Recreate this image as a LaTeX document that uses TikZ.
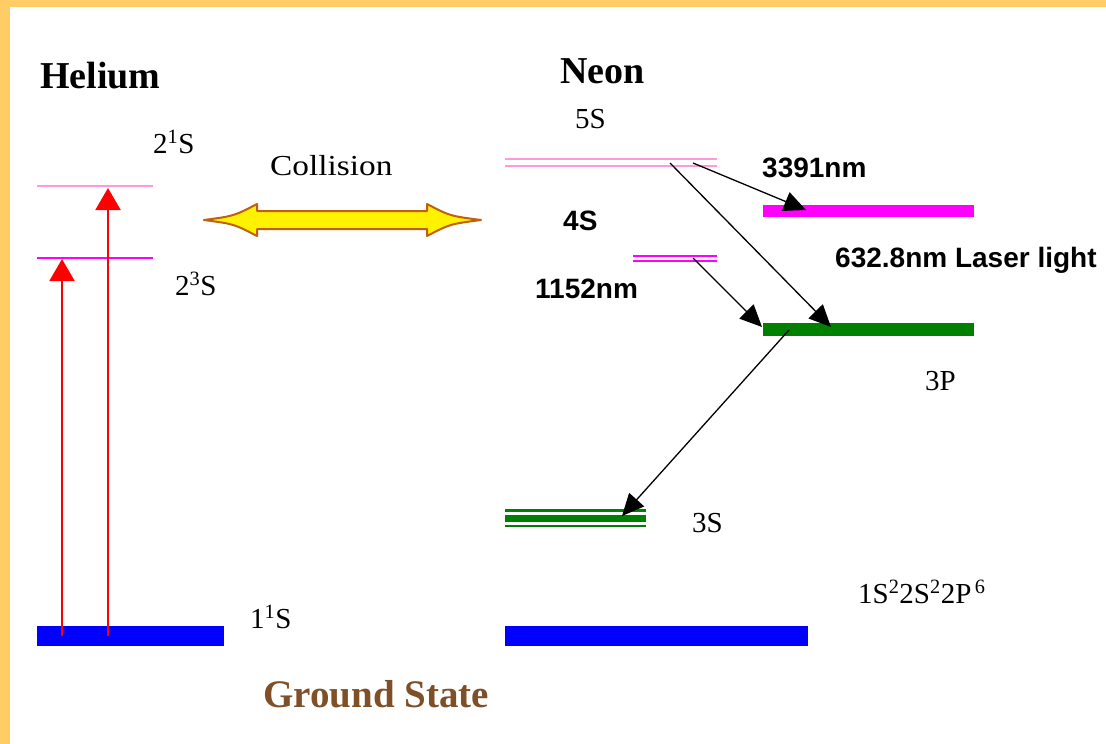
\documentclass[tikz,border=0pt]{standalone}
\usepackage{fontspec}
\setmainfont{Liberation Serif}
\newfontfamily\sansfont{Liberation Sans}
\usetikzlibrary{arrows.meta}
\definecolor{framecol}{HTML}{FFCC66}
\definecolor{lpink}{HTML}{FF99DD}
\definecolor{mag}{HTML}{FF00FF}
\definecolor{dgreen}{HTML}{008000}
\definecolor{gsbrown}{HTML}{7F4F28}
\definecolor{edgecol}{HTML}{C0600F}
\tikzset{
  bar/.style={inner sep=0pt, outer sep=0pt},
  title/.style={anchor=base west, inner sep=0pt, font=\fontsize{38}{40}\selectfont\bfseries},
  lbl/.style={anchor=base west, inner sep=0pt, font=\fontsize{29}{31}\selectfont},
  sbl/.style={anchor=base west, inner sep=0pt, font=\fontsize{28}{30}\selectfont\sansfont\bfseries},
  redarrow/.style={red, line width=2pt, -{Triangle[length=22pt,width=25pt]}},
  trans/.style={black, line width=1.3pt, -{Triangle[length=22pt,width=20pt]}},
}
\begin{document}
\begin{tikzpicture}[x=1pt,y=-1pt]
\useasboundingbox (0,0) rectangle (1106,744);
\fill[white] (0,0) rectangle (1106,744);
\fill[framecol] (0,0) rectangle (1106,7);
\fill[framecol] (0,0) rectangle (10,744);

% titles
\node[title] (he) at (40,88) {Helium};
\node[title] (ne) at (560,83) {Neon};
\node[title, text=gsbrown, font=\fontsize{39}{41}\selectfont\bfseries] (gs) at (263,707) {Ground State};

% helium levels
\node[bar, fill=lpink, minimum width=116pt, minimum height=2pt] (he21) at (95,186) {};
\node[bar, fill=mag, minimum width=116pt, minimum height=2.5pt] (he23) at (95,258) {};
\node[bar, fill=blue, minimum width=187pt, minimum height=20pt] (heg) at (130.5,636) {};

\node[lbl] (l21) at (153,153) {2\textsuperscript{1}S};
\node[lbl] (l23) at (175,295) {2\textsuperscript{3}S};
\node[lbl] (l11) at (250,628) {1\textsuperscript{1}S};

% red excitation arrows
\coordinate (r1s) at (62,636);
\coordinate (r1e) at (62,259);
\coordinate (r2s) at (108,636);
\coordinate (r2e) at (108,188);
\draw[redarrow] (r1s) -- (r1e);
\draw[redarrow] (r2s) -- (r2e);

% collision arrow
\node[lbl] (coll) at (270,175) {\scalebox{1.15}[1]{Collision}};
\filldraw[fill=yellow, draw=edgecol, line width=2pt, line join=round]
  (204,220) .. controls (234,216) .. (257,204) -- (257,211) -- (427,211) -- (427,204)
  .. controls (450,216) .. (481,220) .. controls (450,224) .. (427,236) -- (427,229)
  -- (257,229) -- (257,236) .. controls (234,224) .. (204,220) -- cycle;

% neon levels
\node[bar, fill=lpink, minimum width=212pt, minimum height=2pt] (ne5a) at (611,159) {};
\node[bar, fill=lpink, minimum width=212pt, minimum height=2pt] (ne5b) at (611,166) {};
\node[bar, fill=mag, minimum width=84pt, minimum height=2pt] (ne4a) at (675,255.5) {};
\node[bar, fill=mag, minimum width=84pt, minimum height=2pt] (ne4b) at (675,260.5) {};
\node[bar, fill=mag, minimum width=211pt, minimum height=12pt] (ul) at (868.5,211) {};
\node[bar, fill=dgreen, minimum width=211pt, minimum height=13pt] (p3) at (868.5,329.5) {};
\node[bar, fill=dgreen, minimum width=141pt, minimum height=3pt] (s3a) at (575.5,510) {};
\node[bar, fill=dgreen, minimum width=141pt, minimum height=7pt] (s3b) at (575.5,518.5) {};
\node[bar, fill=dgreen, minimum width=141pt, minimum height=2pt] (s3c) at (575.5,525.5) {};
\node[bar, fill=blue, minimum width=303pt, minimum height=20pt] (neg) at (656.5,636) {};

% neon labels
\node[lbl] (l5s) at (575,128) {5S};
\node[lbl] (l3p) at (925,390) {3P};
\node[lbl] (l3s) at (692,532) {3S};
\node[lbl] (lcfg) at (858,603) {1S\textsuperscript{2}2S\textsuperscript{2}2P\textsuperscript{\,6}};
\node[sbl] (l4s) at (563,230) {4S};
\node[sbl] (l1152) at (535,298) {1152nm};
\node[sbl] (l3391) at (762,177) {3391nm};
\node[sbl] (llaser) at (835,267) {632.8nm Laser light};

% transitions
\coordinate (t1s) at (693,163);
\coordinate (t1e) at (806,210);
\coordinate (t2s) at (670,163);
\coordinate (t2e) at (831,327);
\coordinate (t3s) at (693,258);
\coordinate (t3e) at (762,327);
\coordinate (t4s) at (789,330);
\coordinate (t4e) at (622,516);
\draw[trans] (t1s) -- (t1e);
\draw[trans] (t2s) -- (t2e);
\draw[trans] (t3s) -- (t3e);
\draw[trans] (t4s) -- (t4e);
\end{tikzpicture}
\end{document}
